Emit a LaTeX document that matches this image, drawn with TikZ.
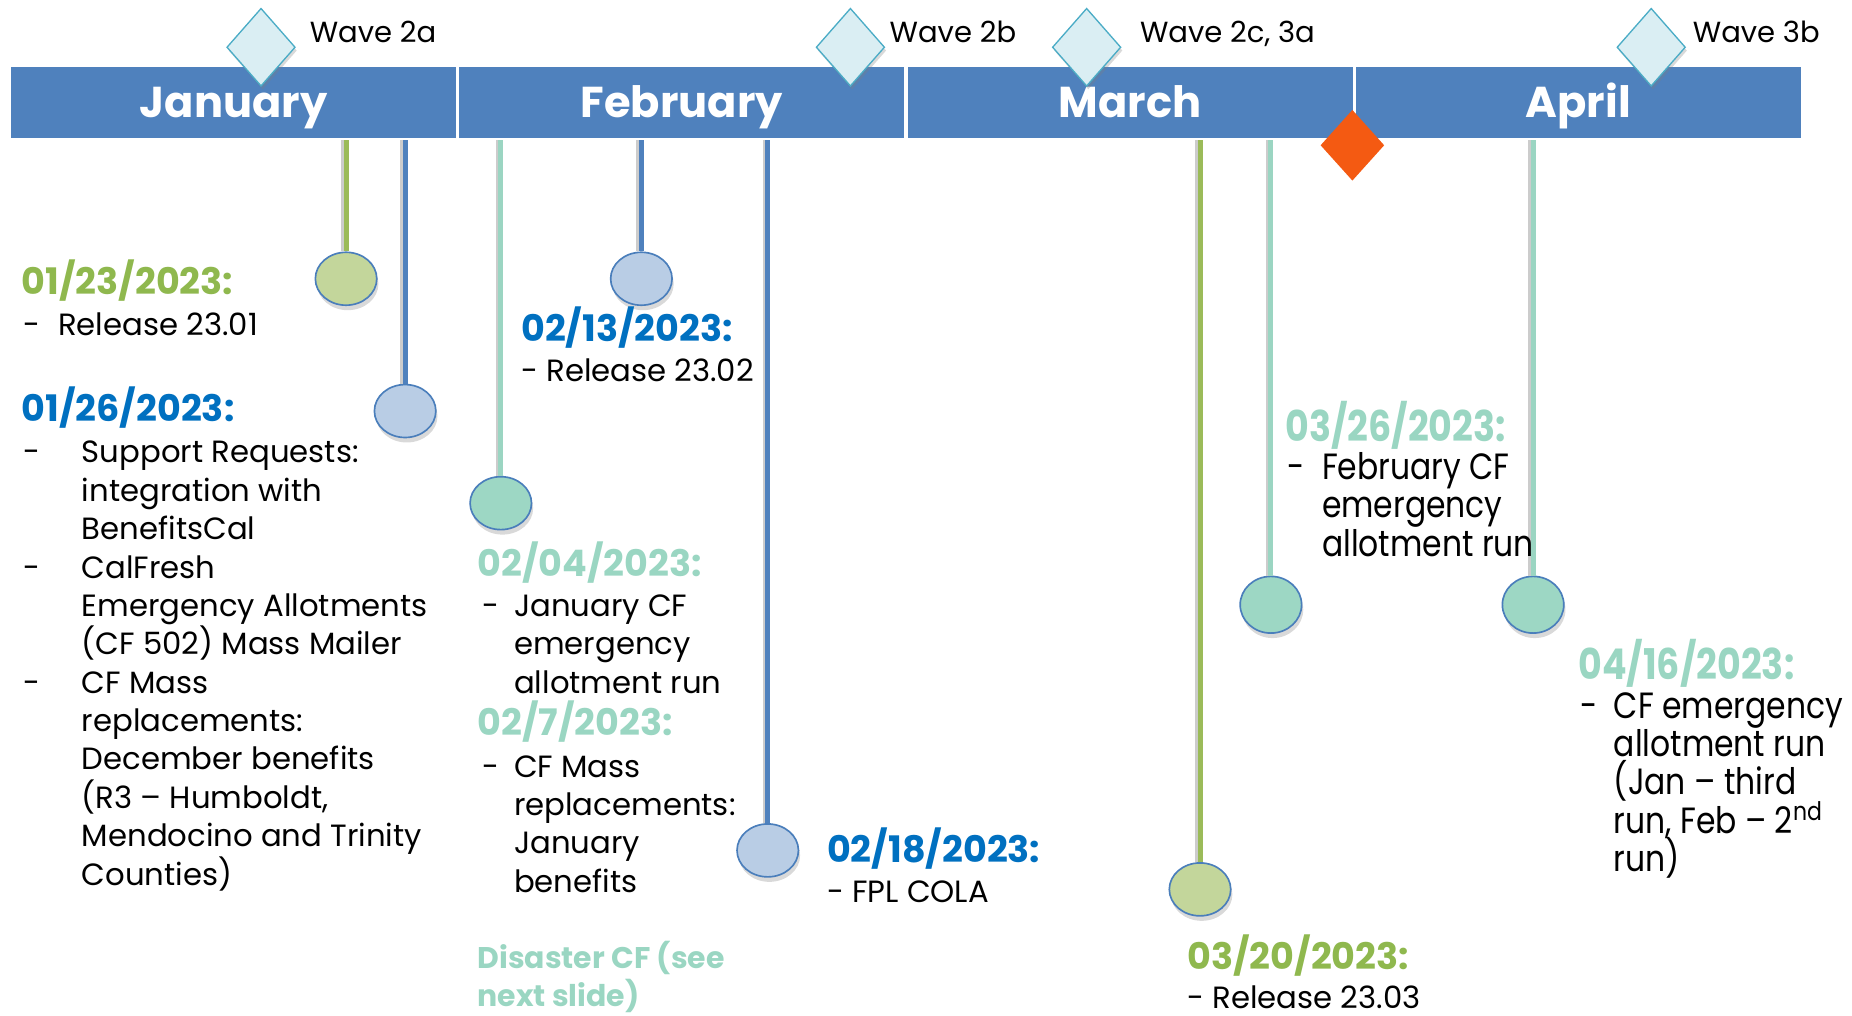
\documentclass[tikz,border=0pt]{standalone}
\usepackage{fontspec}
\setmainfont{Poppins}
\newfontfamily\narrowfont[FakeStretch=0.86, Ligatures=TeX]{Poppins}
\usetikzlibrary{positioning,shapes.geometric,shadows}

\definecolor{barblue}{HTML}{4F81BD}
\definecolor{wavefill}{HTML}{DAEEF3}
\definecolor{waveedge}{HTML}{4BACC6}
\definecolor{launch}{HTML}{F45A12}
\definecolor{greenline}{HTML}{9BBB59}
\definecolor{greenfill}{HTML}{C3D69B}
\definecolor{greentxt}{HTML}{8FB84E}
\definecolor{blueline}{HTML}{4F81BD}
\definecolor{bluefill}{HTML}{B9CDE5}
\definecolor{bluetxt}{HTML}{0070C0}
\definecolor{tealline}{HTML}{9BD5C2}
\definecolor{tealfill}{HTML}{9DD7C4}
\definecolor{tealtxt}{HTML}{9AD6C2}
\definecolor{dotedge}{HTML}{4A7EBB}

% hanging dash items, one row per line, fixed baseline distance
\newlength{\hang}
\newcommand{\dashitem}{\makebox[\hang][l]{-}}
\newcommand{\hangline}{\hspace*{\hang}}
\newcommand{\lines}[1]{\vtop{\lineskiplimit=-100pt\let\\\cr\halign{##\hfil\cr#1\crcr}}}

\tikzset{
  monthbox/.style={fill=barblue, draw=white, line width=1pt, minimum width=9.45cm,
    minimum height=1.55cm, inner sep=0pt, text=white, text height=18pt, text depth=0pt,
    font=\fontsize{26}{30}\selectfont\bfseries},
  wave/.style={diamond, fill=wavefill, draw=waveedge, line width=0.8pt, inner sep=0pt,
    minimum width=1.45cm, minimum height=1.65cm,
    drop shadow={shadow xshift=1pt, shadow yshift=-2pt, opacity=.3}},
  wavetext/.style={anchor=base west, inner sep=0pt, font=\fontsize{17.5}{20}\selectfont},
  evdot/.style={ellipse, draw=dotedge, line width=1pt, inner sep=0pt,
    minimum width=1.3cm, minimum height=1.12cm,
    drop shadow={shadow xshift=1pt, shadow yshift=-3pt, opacity=.3}},
  stemline/.style={line width=3pt,
    preaction={draw=black!20, line width=3pt, transform canvas={xshift=-1.5pt}}},
  datehead/.style={anchor=base west, inner sep=0pt, font=\fontsize{22}{23}\selectfont\bfseries},
  notes/.style={anchor=base west, inner sep=0pt, font=\fontsize{18.5}{23.1}\selectfont},
  hang/.code={\setlength{\hang}{#1}},
  narrow/.style={font=\narrowfont\fontsize{22}{23.1}\selectfont},
  narrowhead/.style={font=\narrowfont\fontsize{25.5}{23}\selectfont\bfseries},
}

\begin{document}
\begin{tikzpicture}[x=0.025cm, y=-0.025cm]
\useasboundingbox (0,0) rectangle (1568,860);

% month bar
\node[monthbox, anchor=north west] (jan) at (8,55) {January};
\node[monthbox, right=0pt of jan] (feb) {February};
\node[monthbox, right=0pt of feb] (mar) {March};
\node[monthbox, right=0pt of mar] (apr) {April};

% waves
\node[wave] (w2a) at (221,40) {};
\node[wave] (w2b) at (720,40) {};
\node[wave] (w2c) at (920,40) {};
\node[wave] (w3b) at (1398,40) {};
\node[wavetext] (l2a) at (262,36) {Wave 2a};
\node[wavetext] (l2b) at (753,36) {Wave 2b};
\node[wavetext] (l2c) at (965,36) {Wave 2c, 3a};
\node[wavetext] (l3b) at (1433,36) {Wave 3b};

% events hanging off the bar
\foreach \nm/\x/\y/\ln/\fl in {e0123/293/236/greenline/greenfill,
    e0126/343/348/blueline/bluefill, e0204/424/426/tealline/tealfill,
    e0213/543/236/blueline/bluefill, e0218/650/720/blueline/bluefill,
    e0320/1016/753/greenline/greenfill}{
  \node[evdot, fill=\fl] (\nm) at (\x,\y) {};
  \draw[stemline, \ln] (\nm.north) -- (\nm |- jan.south);
}
\foreach \nm/\x in {e0326/1076, e0416/1298}{
  \node[evdot, fill=tealfill, minimum height=1.2cm] (\nm) at (\x,512) {};
  \draw[stemline, tealline] (\nm.north) -- (\nm |- jan.south);
}

% go-live marker
\node[diamond, fill=launch, inner sep=0pt, minimum width=1.35cm, minimum height=1.5cm]
  (golive) at (1145,123) {};

% January
\node[datehead, text=greentxt] (d0123) at (18,249) {01/23/2023:};
\node[notes, hang=0.725cm] (t0123) at (20,284) {\dashitem Release 23.01};
\node[datehead, text=bluetxt] (d0126) at (18,357) {01/26/2023:};
\node[notes, hang=1.225cm] (t0126) at (20,392) {\lines{\dashitem Support Requests:\\
  \hangline integration with\\ \hangline BenefitsCal\\
  \dashitem CalFresh\\ \hangline Emergency Allotments\\ \hangline (CF 502) Mass Mailer\\
  \dashitem CF Mass\\ \hangline replacements:\\ \hangline December benefits\\
  \hangline (R3 -- Humboldt,\\ \hangline Mendocino and Trinity\\ \hangline Counties)}};

% February
\node[datehead, text=bluetxt] (d0213) at (441,289) {02/13/2023:};
\node[notes] (t0213) at (441,323) {- Release 23.02};
\node[datehead, text=tealtxt] (d0204) at (404,488) {02/04/2023:};
\node[notes, hang=0.675cm] (t0204) at (408,522) {\lines{\dashitem January CF\\
  \hangline emergency\\ \hangline allotment run}};
\node[datehead, text=tealtxt] (d0207) at (404,623) {02/7/2023:};
\node[notes, hang=0.675cm] (t0207) at (408,658) {\lines{\dashitem CF Mass\\
  \hangline replacements:\\ \hangline January\\ \hangline benefits}};
\node[datehead, text=tealtxt, font=\fontsize{18}{23.1}\selectfont\bfseries]
  (disaster) at (404,820) {\lines{Disaster CF (see\\next slide)}};
\node[datehead, text=bluetxt] (d0218) at (700,730) {02/18/2023:};
\node[notes] (t0218) at (700,764) {- FPL COLA};

% March
\node[datehead, text=greentxt] (d0320) at (1005,821) {03/20/2023:};
\node[notes] (t0320) at (1005,854) {- Release 23.03};
\node[datehead, narrowhead, text=tealtxt] (d0326) at (1088,374) {03/26/2023:};
\node[notes, narrow, hang=0.725cm] (t0326) at (1090,406) {\lines{\dashitem February CF\\
  \hangline emergency\\ \hangline allotment run}};

% April
\node[datehead, narrowhead, text=tealtxt] (d0416) at (1336,575) {04/16/2023:};
\node[notes, narrow, hang=0.7cm] (t0416) at (1338,608) {\lines{\dashitem CF emergency\\
  \hangline allotment run\\ \hangline (Jan -- third\\
  \hangline run, Feb -- 2\textsuperscript{nd}\\ \hangline run)}};
\end{tikzpicture}
\end{document}
